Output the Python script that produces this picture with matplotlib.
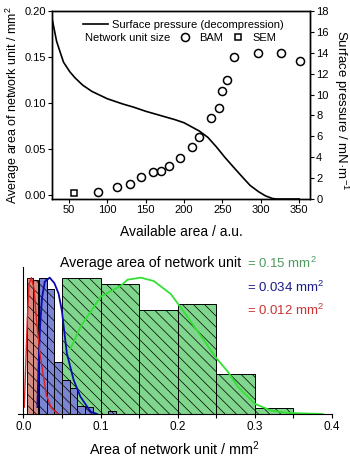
import numpy as np
import matplotlib
matplotlib.use('Agg')
import matplotlib.pyplot as plt

plt.rcParams['font.family'] = ['Liberation Sans', 'DejaVu Sans']
plt.rcParams['mathtext.fontset'] = 'custom'
plt.rcParams['mathtext.rm'] = 'Liberation Sans'
plt.rcParams['mathtext.it'] = 'Liberation Sans:italic'
plt.rcParams['mathtext.default'] = 'regular'
plt.rcParams['hatch.linewidth'] = 0.5

# --- top panel data ---
pressure_x = [28, 31, 34, 38, 43, 51, 58, 68, 80, 100, 120, 134, 150, 169, 188, 200,
              210, 220, 231, 242, 253, 265, 276, 286, 297, 306, 315, 320, 350]
pressure_y = [17.3, 16.2, 15.1, 14.2, 13.1, 12.2, 11.6, 10.9, 10.3, 9.6, 9.1, 8.8, 8.4,
              8.0, 7.6, 7.3, 6.9, 6.5, 5.9, 5.0, 4.0, 3.0, 2.1, 1.3, 0.7, 0.3, 0.05, 0.0, 0.0]

bam_x = [88, 113, 129, 144, 159, 170, 180, 195, 210, 220, 235, 245, 250, 256, 265, 296, 326, 351]
bam_y = [0.003, 0.009, 0.012, 0.019, 0.025, 0.026, 0.031, 0.040, 0.052, 0.063, 0.084,
         0.095, 0.113, 0.125, 0.150, 0.154, 0.154, 0.146]
sem_x = [57]
sem_y = [0.002]

# --- bottom panel data (normalised counts) ---
green_edges = [0.05, 0.10, 0.15, 0.20, 0.25, 0.30]
green_h = [1.0, 0.95, 0.76, 0.81, 0.29, 0.044]
blue_edges = [0.02, 0.03, 0.04, 0.05, 0.06, 0.07, 0.08, 0.09, 0.10, 0.11]
blue_h = [1.0, 0.92, 0.38, 0.25, 0.19, 0.06, 0.05, 0.0, 0.0, 0.025]
red_edges = [0.005, 0.012]
red_h = [1.0, 0.98]

green_fit_x = [0.061, 0.074, 0.100, 0.113, 0.126, 0.135, 0.152, 0.169, 0.191, 0.213,
               0.234, 0.250, 0.265, 0.278, 0.300, 0.321, 0.343, 0.388]
green_fit_y = [0.48, 0.64, 0.86, 0.90, 0.94, 0.985, 1.0, 0.975, 0.88, 0.71,
               0.54, 0.41, 0.31, 0.20, 0.075, 0.025, 0.008, 0.0]
blue_fit_x = [0.018, 0.0195, 0.0215, 0.024, 0.0276, 0.034, 0.040, 0.0454, 0.0497,
              0.0562, 0.065, 0.0738, 0.087, 0.0955]
blue_fit_y = [0.05, 0.35, 0.64, 0.85, 0.97, 1.0, 0.96, 0.885, 0.76, 0.445, 0.25,
              0.127, 0.017, 0.0]
red_fit_x = [0.001, 0.0023, 0.005, 0.0072, 0.0102, 0.0137, 0.0167, 0.021, 0.0254,
             0.0297, 0.036, 0.045]
red_fit_y = [0.05, 0.26, 0.70, 0.95, 1.0, 0.92, 0.70, 0.46, 0.29, 0.14, 0.044, 0.0]

fig = plt.figure(figsize=(3.5, 4.58), dpi=100)

# ---------------- top panel ----------------
ax = fig.add_axes([52/350, 1 - 199/458, 258/350, 188/458])
ax2 = ax.twinx()

ax.plot(bam_x, bam_y, 'o', mfc='none', mec='black', ms=5.8, mew=1.1, label='BAM')
ax.plot(sem_x, sem_y, 's', mfc='none', mec='black', ms=5.0, mew=1.1, label='SEM')
ax2.plot(pressure_x, pressure_y, color='black', lw=1.2)

ax.set_xlim(28, 364)
ax.set_ylim(-0.0045, 0.20)
ax2.set_ylim(0, 18)
ax.set_xticks([50, 100, 150, 200, 250, 300, 350])
ax.set_yticks([0.0, 0.05, 0.10, 0.15, 0.20])
ax.set_yticklabels(['0.00', '0.05', '0.10', '0.15', '0.20'])
ax2.set_yticks(range(0, 19, 2))
for a in (ax, ax2):
    a.tick_params(labelsize=8, length=3, width=0.8, pad=1.5)
    for s in a.spines.values():
        s.set_linewidth(1.0)

ax.set_xlabel('Available area / a.u.', fontsize=10, labelpad=7)
ax.set_ylabel('Average area of network unit / mm$^2$', fontsize=9, va='center')
ax.yaxis.set_label_coords(-0.152, 0.5)
ax2.set_ylabel('Surface pressure / mN·m$^{-1}$', fontsize=9.5, rotation=270,
               va='center')
ax2.yaxis.set_label_coords(1.122, 0.47)

line = ax2.lines[0]
leg1 = ax2.legend([line], ['Surface pressure (decompression)'], loc='upper left',
                  bbox_to_anchor=(0.085, 1.0), frameon=False, fontsize=8,
                  handlelength=2.3, handletextpad=0.3, borderpad=0.3)
ax2.add_artist(leg1)
ax2.text(0.128, 0.856, 'Network unit size', transform=ax2.transAxes, fontsize=8,
         va='center', ha='left')
ax2.legend(ax.lines[:2], ['BAM', 'SEM'], loc='center left', bbox_to_anchor=(0.472, 0.856),
           ncol=2, frameon=False, fontsize=8, handlelength=1.0, handletextpad=0.8,
           columnspacing=0.8, borderpad=0)

# ---------------- bottom panel ----------------
bx = fig.add_axes([17.7/350, 1 - 414/458, (332 - 17.7)/350, 147/458])
bx.bar(green_edges, green_h, width=0.05, align='edge', color='#80d68c',
       edgecolor='black', linewidth=0.7, hatch='\\\\\\')
bx.bar(blue_edges, blue_h, width=0.01, align='edge', color='#7c85d2',
       edgecolor='black', linewidth=0.7, hatch='\\\\\\')
bx.bar(red_edges, red_h, width=0.007, align='edge', color='#d48c82',
       edgecolor='black', linewidth=0.7, hatch='\\\\\\')
bx.plot(green_fit_x, green_fit_y, color='#33e033', lw=1.3)
bx.plot(blue_fit_x, blue_fit_y, color='#0a0ab0', lw=1.3)
bx.plot(red_fit_x, red_fit_y, color='#e02020', lw=1.0)

bx.set_xlim(-0.0075, 0.4)
bx.set_ylim(0, 1.078)
bx.spines['top'].set_visible(False)
bx.spines['right'].set_visible(False)
bx.spines['left'].set_position(('data', 0))
bx.set_yticks([])
bx.set_xticks([0.0, 0.1, 0.2, 0.3, 0.4])
bx.set_xticks([0.05, 0.15, 0.25, 0.35], minor=True)
bx.tick_params(axis='x', which='both', labelsize=8.5, length=3, width=0.8, pad=2)
bx.set_xlabel('Area of network unit / mm$^2$', fontsize=10.4, labelpad=5)

fig.text(60/350, 1 - 263/458, 'Average area of network unit', fontsize=10.2, va='center')
fig.text(247/350, 1 - 263/458, '= 0.15 mm$^2$', fontsize=9.5, va='center', color='#4f9a5f')
fig.text(247/350, 1 - 287/458, '= 0.034 mm$^2$', fontsize=9.5, va='center', color='#1a1a8a')
fig.text(247/350, 1 - 310/458, '= 0.012 mm$^2$', fontsize=9.5, va='center', color='#c83232')

fig.savefig('out.png', dpi=100)
